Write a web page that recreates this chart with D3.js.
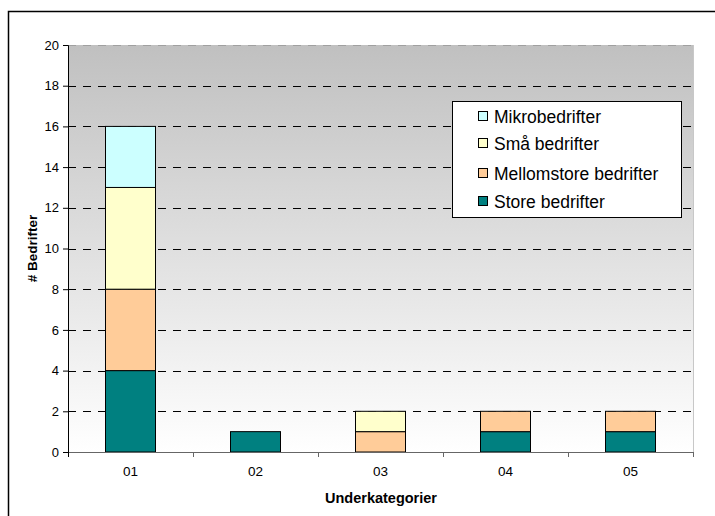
<!DOCTYPE html>
<html>
<head>
<meta charset="utf-8">
<script src="https://cdn.jsdelivr.net/npm/d3@7"></script>
<style>
  body { margin: 0; background: #fff; }
  text { font-family: Arial, "Liberation Sans", sans-serif; fill: #000; }
</style>
</head>
<body>
<div id="chart"></div>
<script>
// data
const categories = ["01", "02", "03", "04", "05"];
const seriesNames = ["Store bedrifter", "Mellomstore bedrifter", "Små bedrifter", "Mikrobedrifter"];
const store = [4, 1, 0, 1, 1];
const mellomstore = [4, 0, 1, 1, 1];
const smaa = [5, 0, 1, 0, 0];
const mikro = [3, 0, 0, 0, 0];
const yTicks = [0, 2, 4, 6, 8, 10, 12, 14, 16, 18, 20];
const colors = ["#008080", "#ffcc99", "#ffffcc", "#ccffff"];

const W = 715, H = 516;
const margin = {left: 68, top: 45, right: 22, bottom: 64};
const width = W - margin.left - margin.right, height = H - margin.top - margin.bottom;

const rows = categories.map((c, i) => ({
  cat: c,
  "Store bedrifter": store[i],
  "Mellomstore bedrifter": mellomstore[i],
  "Små bedrifter": smaa[i],
  "Mikrobedrifter": mikro[i]
}));
const stacked = d3.stack().keys(seriesNames)(rows);

const svg = d3.select("#chart").append("svg")
    .attr("width", W).attr("height", H);

// outer border
svg.append("rect")
    .attr("x", 8.5).attr("y", 11.5)
    .attr("width", W + 10).attr("height", H + 10)
    .attr("fill", "none").attr("stroke", "#000").attr("stroke-width", 1.5);

const defs = svg.append("defs");
const grad = defs.append("linearGradient").attr("id", "bg")
    .attr("x1", 0).attr("y1", 0).attr("x2", 0).attr("y2", 1);
grad.append("stop").attr("offset", "0%").attr("stop-color", "#c0c0c0");
grad.append("stop").attr("offset", "100%").attr("stop-color", "#ffffff");

const g = svg.append("g")
    .attr("transform", "translate(" + margin.left + "," + margin.top + ")");

const x = d3.scaleBand().domain(categories).range([0, width]);
const y = d3.scaleLinear().domain([0, 20]).range([height, 0]);

g.append("rect")
    .attr("width", width).attr("height", height)
    .attr("fill", "url(#bg)");
// right border of plot area
g.append("line")
    .attr("x1", width + 0.5).attr("x2", width + 0.5)
    .attr("y1", 0).attr("y2", height)
    .attr("stroke", "#c8c8c8");

// gridlines
g.selectAll(".grid")
    .data(yTicks.filter(d => d > 0))
    .enter().append("line")
    .attr("x1", 0).attr("x2", width)
    .attr("y1", d => Math.round(y(d)) + 0.5)
    .attr("y2", d => Math.round(y(d)) + 0.5)
    .attr("stroke", d => d === 20 ? "#a0a0a0" : "#000")
    .attr("stroke-dasharray", "8,7");

// bars
const barW = x.bandwidth() * 0.4;
g.selectAll(".series")
    .data(stacked)
    .enter().append("g")
    .attr("fill", (d, i) => colors[i])
    .selectAll("rect")
    .data(d => d.filter(v => v[1] - v[0] > 0))
    .enter().append("rect")
    .attr("x", d => x(d.data.cat) + (x.bandwidth() - barW) / 2)
    .attr("y", d => y(d[1]))
    .attr("width", barW)
    .attr("height", d => y(d[0]) - y(d[1]))
    .attr("stroke", "#000")
    .attr("stroke-width", 1);

// y axis
const yAxis = g.append("g")
    .call(d3.axisLeft(y).tickValues(yTicks).tickSize(5).tickPadding(4));
yAxis.select(".domain").attr("stroke", "#000");
yAxis.selectAll("text").style("font-size", "13px").attr("fill", "#222");

// x axis
const xAxis = g.append("g")
    .attr("transform", "translate(0," + height + ")")
    .call(d3.axisBottom(x).tickSize(0).tickPadding(14));
xAxis.select(".domain").attr("stroke", "#666").attr("d", "M0,0.5H" + width);
xAxis.selectAll("text").style("font-size", "13.5px").attr("fill", "#222");
g.append("g")
    .attr("transform", "translate(0," + height + ")")
    .selectAll("line")
    .data(d3.range(categories.length + 1))
    .enter().append("line")
    .attr("x1", i => Math.round(i * x.step()) + 0.5)
    .attr("x2", i => Math.round(i * x.step()) + 0.5)
    .attr("y1", 0).attr("y2", 5)
    .attr("stroke", i => i === 0 ? "#000" : "#666");

// axis titles
svg.append("text")
    .attr("x", margin.left + width / 2 + 0.5).attr("y", 503)
    .attr("text-anchor", "middle")
    .style("font-size", "14.5px").style("font-weight", "bold")
    .text("Underkategorier");
svg.append("text")
    .attr("transform", "translate(37," + (margin.top + height / 2) + ") rotate(-90)")
    .attr("text-anchor", "middle")
    .style("font-size", "13.5px").style("font-weight", "bold")
    .text("# Bedrifter");

// legend
const legend = svg.append("g").attr("transform", "translate(452,101)");
legend.append("rect")
    .attr("x", 0.5).attr("y", 0.5)
    .attr("width", 229).attr("height", 116)
    .attr("fill", "#fff").attr("stroke", "#000");
const legendOrder = seriesNames.slice().reverse();
const legendY = [15, 42, 72, 100];
const li = legend.selectAll(".li")
    .data(legendOrder)
    .enter().append("g")
    .attr("transform", (d, i) => "translate(26," + legendY[i] + ")");
li.append("rect")
    .attr("x", 0.5).attr("y", -4.5)
    .attr("width", 9).attr("height", 9)
    .attr("fill", d => colors[seriesNames.indexOf(d)])
    .attr("stroke", "#000");
li.append("text")
    .attr("x", 16).attr("y", 1).attr("dy", "0.35em")
    .style("font-size", "17.5px")
    .text(d => d);
</script>
</body>
</html>
